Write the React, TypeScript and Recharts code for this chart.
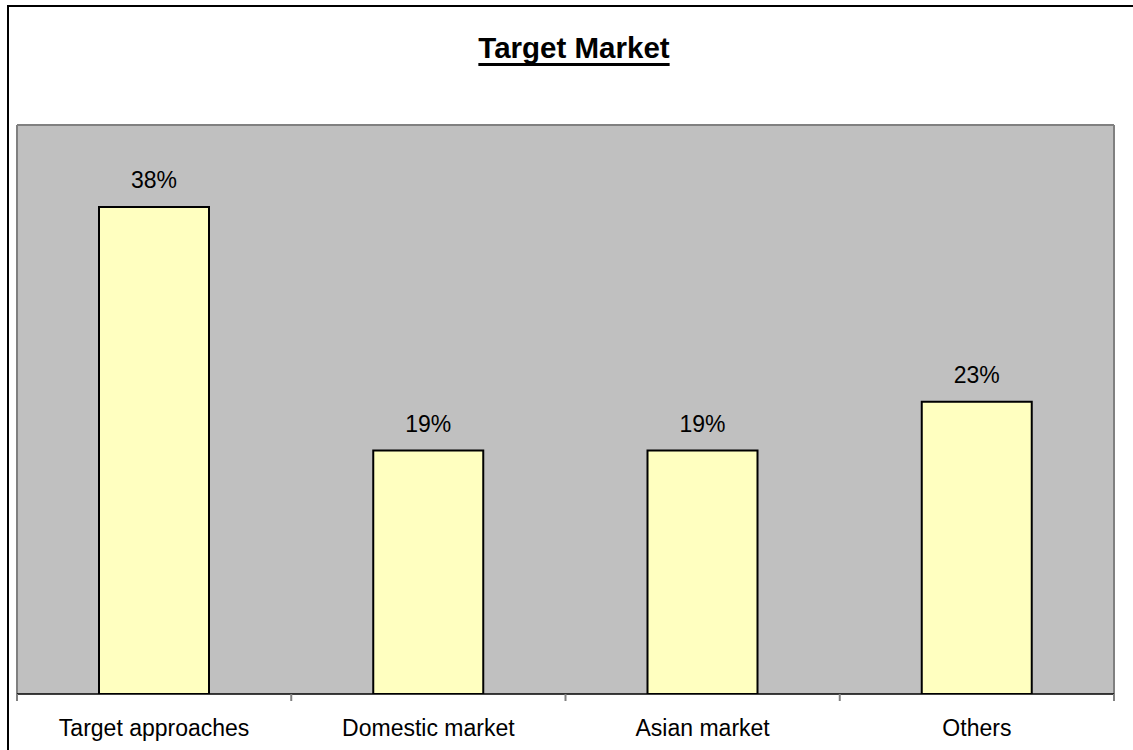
import React from 'react';
import { BarChart, Bar, XAxis, YAxis, CartesianGrid, LabelList } from 'recharts';

const categories = ['Target approaches', 'Domestic market', 'Asian market', 'Others'];
const shares = [38, 19, 19, 22.8];
const shareLabels = ['38%', '19%', '19%', '23%'];
const Y_MAX = 44.4;

const data = categories.map((name, i) => ({ name, value: shares[i], label: shareLabels[i] }));

const FONT = '"Liberation Sans", Arial, sans-serif';
const W = 1133;
const H = 750;
const MARGIN = { top: 125, right: 19, bottom: 6, left: 17 };
const PLOT_W = W - MARGIN.left - MARGIN.right;
const HALF_BAND = PLOT_W / categories.length / 2;

const CategoryTick = (props: any) => {
  const { x, y, payload, index } = props;
  const half = HALF_BAND;
  const last = index === categories.length - 1;
  return (
    <g>
      <line x1={x - half} x2={x - half} y1={y} y2={y + 7} stroke="#808080" strokeWidth={2} />
      {last && <line x1={x + half} x2={x + half} y1={y} y2={y + 7} stroke="#808080" strokeWidth={2} />}
      <text x={x} y={y + 42} textAnchor="middle" fontSize={23} fill="#000" fontFamily={FONT}>
        {payload.value}
      </text>
    </g>
  );
};

export default function App() {
  return (
    <div style={{ position: 'absolute', left: 0, top: 0, width: W, height: H, overflow: 'hidden', background: '#fff', fontFamily: FONT }}>
      <div style={{ position: 'absolute', left: 7, top: 5, width: 1300, height: 900, borderLeft: '2px solid #000', borderTop: '2px solid #000' }} />
      <div
        style={{
          position: 'absolute',
          left: 15,
          width: 1118,
          top: 31,
          textAlign: 'center',
          fontSize: 29.5,
          fontWeight: 'bold',
          lineHeight: 'normal',
          textDecoration: 'underline',
          textDecorationThickness: '3px',
          textUnderlineOffset: '5px',
          textDecorationSkipInk: 'none',
          color: '#000',
          whiteSpace: 'nowrap',
        } as any}
      >
        Target Market
      </div>
      <div style={{ position: 'absolute', left: 0, top: 0 }}>
        <BarChart width={W} height={H} data={data} margin={MARGIN} barCategoryGap={0}>
          <CartesianGrid
            fill="#C0C0C0"
            fillOpacity={1}
            stroke="#808080"
            strokeWidth={2}
            horizontalCoordinatesGenerator={({ offset }: any) => [offset.top]}
            verticalCoordinatesGenerator={({ offset }: any) => [offset.left, offset.left + offset.width]}
          />
          <XAxis
            dataKey="name"
            height={50}
            interval={0}
            tickLine={false}
            tickSize={0}
            tickMargin={0}
            axisLine={{ stroke: '#000', strokeWidth: 1.5 }}
            tick={<CategoryTick />}
          />
          <YAxis hide domain={[0, Y_MAX]} allowDataOverflow />
          <Bar dataKey="value" barSize={110} fill="#FFFFC0" stroke="#000" strokeWidth={2} isAnimationActive={false}>
            <LabelList dataKey="label" position="top" offset={19} fill="#000" fontSize={23} fontFamily={FONT} />
          </Bar>
        </BarChart>
      </div>
    </div>
  );
}
